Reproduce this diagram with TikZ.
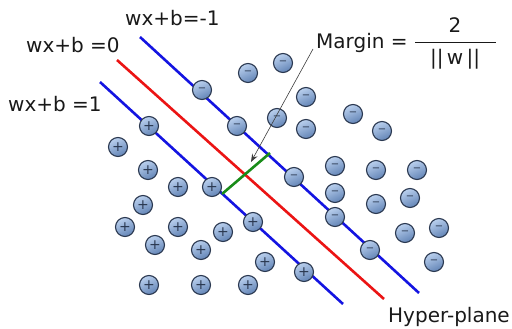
\documentclass[tikz,border=0pt]{standalone}
\usepackage{fontspec}
\setmainfont{DejaVu Sans}
\usetikzlibrary{arrows.meta}
\definecolor{svmblue}{RGB}{20,20,225}
\definecolor{svmred}{RGB}{235,20,20}
\definecolor{svmgreen}{RGB}{25,140,25}
\definecolor{balltop}{RGB}{186,208,238}
\definecolor{ballbot}{RGB}{98,132,182}
\definecolor{ballrim}{RGB}{42,56,80}
\definecolor{figtext}{RGB}{25,25,25}
\tikzset{
  hp/.style       ={line width=2.6pt},
  ball/.style     ={circle, draw=ballrim, line width=1.1pt, top color=balltop,
                    bottom color=ballbot, shading angle=25, minimum size=19pt,
                    inner sep=0pt, text=ballrim},
  plusball/.style ={ball, font=\fontsize{14}{14}\selectfont},
  minball/.style  ={ball, font=\fontsize{10}{10}\selectfont},
  lab/.style      ={font=\fontsize{20}{23}\selectfont, text=figtext, inner sep=0pt, anchor=base west},
  ptr/.style      ={draw=figtext!85, line width=0.6pt, -{Stealth[length=8pt,width=6pt]}},
}

\begin{document}
\begin{tikzpicture}[x=1pt,y=-1pt]
  \useasboundingbox (0,0) rectangle (512,329);
  % hyper-planes
  \coordinate (na) at (140,37);  \coordinate (nb) at (419,293);
  \coordinate (ha) at (117,60);  \coordinate (hb) at (384,299);
  \coordinate (pa) at (100,82);  \coordinate (pb) at (343,304);
  \draw[hp,svmblue] (na) -- (nb);
  \draw[hp,svmred]  (ha) -- (hb);
  \draw[hp,svmblue] (pa) -- (pb);
  \coordinate (ga) at (222,194); \coordinate (gb) at (270,153);
  \draw[hp,svmgreen] (ga) -- (gb);
  % samples
  \foreach \x/\y [count=\i] in {149/126,118/147,148/170,178/187,212/187,143/205,
      125/227,178/227,155/245,223/232,253/222,201/250,265/262,304/272,
      149/285,201/285,248/285}
    \node[plusball] (p\i) at (\x,\y) {+};
  \foreach \x/\y [count=\i] in {202/90,248/73,237/126,283/63,306/97,277/118,
      306/129,353/114,382/131,335/166,376/170,417/170,294/177,335/193,
      376/204,410/198,335/217,405/233,439/228,370/250,434/262}
    \node[minball] (n\i) at (\x,\y) {−};
  % labels
  \node[lab] (lneg) at (125,26) {wx+b=-1};
  \node[lab] (lmid) at (26,53)  {wx+b =0};
  \node[lab] (lpos) at (8,112)  {wx+b =1};
  \node[lab] (marg) at (316,49) {Margin =};
  \node[lab,anchor=base] (two) at (455,33) {2};
  \node[lab,anchor=base] (nrm) at (455,65) {||\,w\,||};
  \draw[figtext,line width=1pt] (415,43) -- (496,43);
  \node[lab] (hyp) at (388,322) {Hyper-plane};
  \coordinate (tip) at (251,162);
  \draw[ptr] ([xshift=-3pt]marg.base west) -- (tip);
\end{tikzpicture}
\end{document}
